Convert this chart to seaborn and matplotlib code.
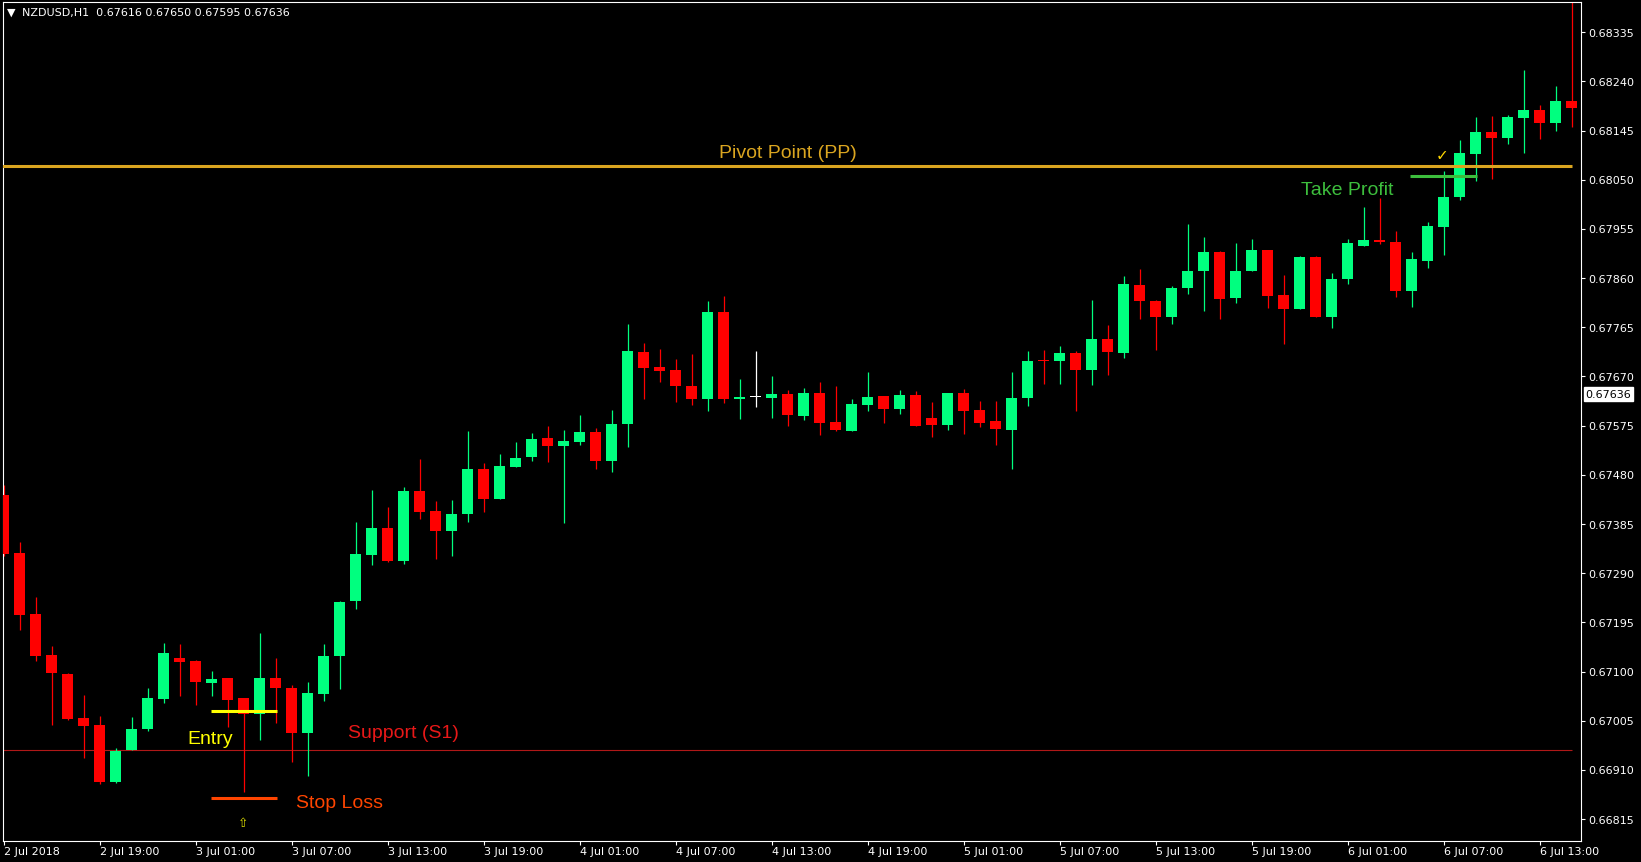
import pandas as pd
import seaborn as sns
import matplotlib
matplotlib.use('Agg')
import matplotlib.pyplot as plt
from matplotlib.transforms import blended_transform_factory

# NZDUSD H1 candles, 2 Jul 2018 13:00 -> 6 Jul 2018 15:00
opens = [0.67441, 0.67329, 0.67211, 0.67132, 0.67095, 0.67010, 0.66997, 0.66887, 0.66949, 0.66989,
         0.67047, 0.67126, 0.67121, 0.67078, 0.67088, 0.67049, 0.67018, 0.67088, 0.67068, 0.66981,
         0.67057, 0.67130, 0.67237, 0.67325, 0.67378, 0.67314, 0.67449, 0.67411, 0.67372, 0.67405,
         0.67492, 0.67434, 0.67496, 0.67515, 0.67552, 0.67536, 0.67544, 0.67563, 0.67507, 0.67579,
         0.67718, 0.67689, 0.67683, 0.67652, 0.67627, 0.67795, 0.67627, 0.67631, 0.67629, 0.67637,
         0.67594, 0.67639, 0.67582, 0.67565, 0.67615, 0.67633, 0.67608, 0.67635, 0.67590, 0.67577,
         0.67639, 0.67606, 0.67584, 0.67567, 0.67629, 0.67702, 0.67699, 0.67716, 0.67683, 0.67743,
         0.67716, 0.67847, 0.67816, 0.67784, 0.67840, 0.67873, 0.67911, 0.67822, 0.67873, 0.67915,
         0.67828, 0.67801, 0.67901, 0.67784, 0.67859, 0.67923, 0.67934, 0.67929, 0.67836, 0.67894,
         0.67959, 0.68016, 0.68099, 0.68143, 0.68130, 0.68170, 0.68184, 0.68159, 0.68203]
highs = [0.67461, 0.67351, 0.67244, 0.67150, 0.67097, 0.67055, 0.67014, 0.66952, 0.67012, 0.67068,
         0.67155, 0.67153, 0.67123, 0.67101, 0.67088, 0.67049, 0.67175, 0.67126, 0.67074, 0.67080,
         0.67153, 0.67237, 0.67389, 0.67451, 0.67418, 0.67457, 0.67511, 0.67430, 0.67432, 0.67565,
         0.67503, 0.67521, 0.67544, 0.67561, 0.67575, 0.67567, 0.67596, 0.67571, 0.67606, 0.67772,
         0.67735, 0.67724, 0.67704, 0.67714, 0.67816, 0.67826, 0.67666, 0.67720, 0.67670, 0.67644,
         0.67648, 0.67660, 0.67652, 0.67627, 0.67679, 0.67633, 0.67644, 0.67642, 0.67621, 0.67639,
         0.67646, 0.67623, 0.67623, 0.67679, 0.67720, 0.67722, 0.67729, 0.67720, 0.67818, 0.67770,
         0.67865, 0.67878, 0.67818, 0.67844, 0.67965, 0.67940, 0.67913, 0.67927, 0.67936, 0.67915,
         0.67867, 0.67903, 0.67903, 0.67869, 0.67936, 0.67998, 0.68014, 0.67952, 0.67911, 0.67969,
         0.68066, 0.68126, 0.68172, 0.68174, 0.68176, 0.68263, 0.68195, 0.68232, 0.68420]
lows = [0.67323, 0.67180, 0.67121, 0.66997, 0.67006, 0.66933, 0.66883, 0.66885, 0.66949, 0.66985,
        0.67039, 0.67053, 0.67035, 0.67053, 0.66993, 0.66867, 0.66968, 0.67001, 0.66925, 0.66898,
        0.67043, 0.67066, 0.67221, 0.67306, 0.67312, 0.67308, 0.67395, 0.67318, 0.67323, 0.67389,
        0.67409, 0.67434, 0.67496, 0.67507, 0.67505, 0.67387, 0.67538, 0.67492, 0.67486, 0.67534,
        0.67627, 0.67660, 0.67621, 0.67615, 0.67604, 0.67619, 0.67588, 0.67612, 0.67590, 0.67575,
        0.67586, 0.67557, 0.67565, 0.67565, 0.67604, 0.67581, 0.67598, 0.67575, 0.67554, 0.67567,
        0.67559, 0.67573, 0.67538, 0.67492, 0.67613, 0.67656, 0.67656, 0.67604, 0.67654, 0.67673,
        0.67706, 0.67782, 0.67722, 0.67772, 0.67830, 0.67797, 0.67782, 0.67811, 0.67873, 0.67803,
        0.67733, 0.67801, 0.67784, 0.67764, 0.67849, 0.67923, 0.67925, 0.67824, 0.67805, 0.67880,
        0.67905, 0.68010, 0.68048, 0.68052, 0.68120, 0.68101, 0.68128, 0.68145, 0.68151]
closes = [0.67327, 0.67210, 0.67130, 0.67097, 0.67008, 0.66995, 0.66887, 0.66947, 0.66989, 0.67049,
          0.67136, 0.67119, 0.67080, 0.67086, 0.67045, 0.67018, 0.67088, 0.67068, 0.66981, 0.67059,
          0.67130, 0.67235, 0.67327, 0.67378, 0.67314, 0.67449, 0.67409, 0.67372, 0.67405, 0.67492,
          0.67434, 0.67498, 0.67513, 0.67550, 0.67536, 0.67546, 0.67563, 0.67507, 0.67579, 0.67720,
          0.67687, 0.67681, 0.67652, 0.67627, 0.67795, 0.67627, 0.67631, 0.67631, 0.67637, 0.67596,
          0.67639, 0.67581, 0.67567, 0.67617, 0.67631, 0.67608, 0.67635, 0.67575, 0.67577, 0.67639,
          0.67604, 0.67581, 0.67569, 0.67629, 0.67700, 0.67699, 0.67716, 0.67683, 0.67743, 0.67718,
          0.67849, 0.67815, 0.67784, 0.67840, 0.67874, 0.67911, 0.67820, 0.67874, 0.67915, 0.67826,
          0.67801, 0.67901, 0.67784, 0.67859, 0.67927, 0.67934, 0.67929, 0.67836, 0.67896, 0.67961,
          0.68017, 0.68101, 0.68143, 0.68130, 0.68172, 0.68184, 0.68159, 0.68203, 0.68188]

time_labels = ['2 Jul 2018', '2 Jul 19:00', '3 Jul 01:00', '3 Jul 07:00', '3 Jul 13:00',
               '3 Jul 19:00', '4 Jul 01:00', '4 Jul 07:00', '4 Jul 13:00', '4 Jul 19:00',
               '5 Jul 01:00', '5 Jul 07:00', '5 Jul 13:00', '5 Jul 19:00', '6 Jul 01:00',
               '6 Jul 07:00', '6 Jul 13:00']
price_ticks = [0.66815, 0.66910, 0.67005, 0.67100, 0.67195, 0.67290, 0.67385, 0.67480, 0.67575,
               0.67670, 0.67765, 0.67860, 0.67955, 0.68050, 0.68145, 0.68240, 0.68335]

pivot_point = 0.68077
take_profit = 0.68057
entry_price = 0.67024
stop_loss = 0.66855
support_s1 = 0.66948
last_price = 0.67636

df = pd.DataFrame({'open': opens, 'high': highs, 'low': lows, 'close': closes})
df['bar'] = range(len(df))
df['color'] = '#FFFFFF'
df.loc[df['close'] > df['open'], 'color'] = '#00FF7F'
df.loc[df['close'] < df['open'], 'color'] = '#FF0000'
df['body_low'] = df[['open', 'close']].min(axis=1)
df['body_h'] = (df['open'] - df['close']).abs().clip(lower=0.00002)

sns.set_theme(style='dark', rc={
    'axes.facecolor': 'black',
    'figure.facecolor': 'black',
    'axes.edgecolor': 'white',
    'axes.grid': False,
    'xtick.color': 'white',
    'ytick.color': 'white',
})
plt.rcParams['font.family'] = ['DejaVu Sans']

fig = plt.figure(figsize=(16.41, 8.625), dpi=100)
ax = fig.add_axes([0.00165, 0.02378, 0.96197, 0.97355])

# wicks then bodies
ax.vlines(df['bar'], df['low'], df['high'], colors=df['color'], linewidth=0.9, zorder=2)
ax.bar(df['bar'], df['body_h'], bottom=df['body_low'], width=0.69,
       color=df['color'], linewidth=0, zorder=3)

# trade levels
ax.hlines(pivot_point, -0.2, 98.0, color='#DAA520', linewidth=2.2, zorder=4)
ax.hlines(support_s1, -0.2, 98.0, color='#B01818', linewidth=0.8, zorder=1)
ax.hlines(take_profit, 87.9, 92.1, color='#3DBE3D', linewidth=2.2, zorder=4)
ax.hlines(entry_price, 12.95, 17.08, color='#FFFF00', linewidth=2.2, zorder=4)
ax.hlines(stop_loss, 12.95, 17.08, color='#FF4500', linewidth=2.2, zorder=4)

lab = dict(family=['Liberation Sans', 'DejaVu Sans'], fontsize=14, ha='center', va='center')
ax.text(49.0, 0.68101, 'Pivot Point (PP)', color='#DAA520', **lab)
ax.text(84.0, 0.68031, 'Take Profit', color='#3DBE3D', **lab)
ax.text(25.0, 0.66982, 'Support (S1)', color='#E81818', **lab)
ax.text(12.94, 0.66970, 'Entry', color='#FFFF00', **lab)
ax.text(21.0, 0.66847, 'Stop Loss', color='#FF4500', **lab)
ax.text(15.0, 0.66808, '\u21e7', color='#E0E000', fontsize=9, ha='center', va='center')
ax.text(89.9, 0.68097, '\u2713', color='#FFD700', fontsize=11, ha='center', va='center')

ax.set_xlim(-0.05, 98.61)
ax.set_ylim(0.667717, 0.683938)

ax.set_xticks(list(range(0, 97, 6)))
ax.set_xticklabels(time_labels, ha='left', fontsize=8, color='white')
ax.set_yticks(price_ticks)
ax.set_yticklabels([f'{p:.5f}' for p in price_ticks], fontsize=8, color='white')
ax.yaxis.tick_right()
ax.tick_params(axis='x', length=3, width=0.8, pad=0.5, bottom=True)
ax.tick_params(axis='y', length=3, width=0.8, pad=2, right=True, left=False)
ax.set_xlabel('')
ax.set_ylabel('')
for side in ax.spines.values():
    side.set_color('white')
    side.set_linewidth(0.8)

# current price box on the price scale
tr = blended_transform_factory(ax.transAxes, ax.transData)
ax.annotate(f'{last_price:.5f}', xy=(1.0, last_price), xycoords=tr, xytext=(3, 0),
            textcoords='offset points', ha='left', va='center', fontsize=8, color='black',
            bbox=dict(boxstyle='square,pad=0.15', facecolor='white', edgecolor='white'),
            annotation_clip=False)

# header
fig.text(7 / 1641, 1 - 12.5 / 862, '\u25bc', color='white', fontsize=8, va='center')
fig.text(21.7 / 1641, 1 - 12.5 / 862, 'NZDUSD,H1  0.67616 0.67650 0.67595 0.67636',
         color='white', fontsize=8, va='center')

fig.savefig('out.png', dpi=100, facecolor='black')
